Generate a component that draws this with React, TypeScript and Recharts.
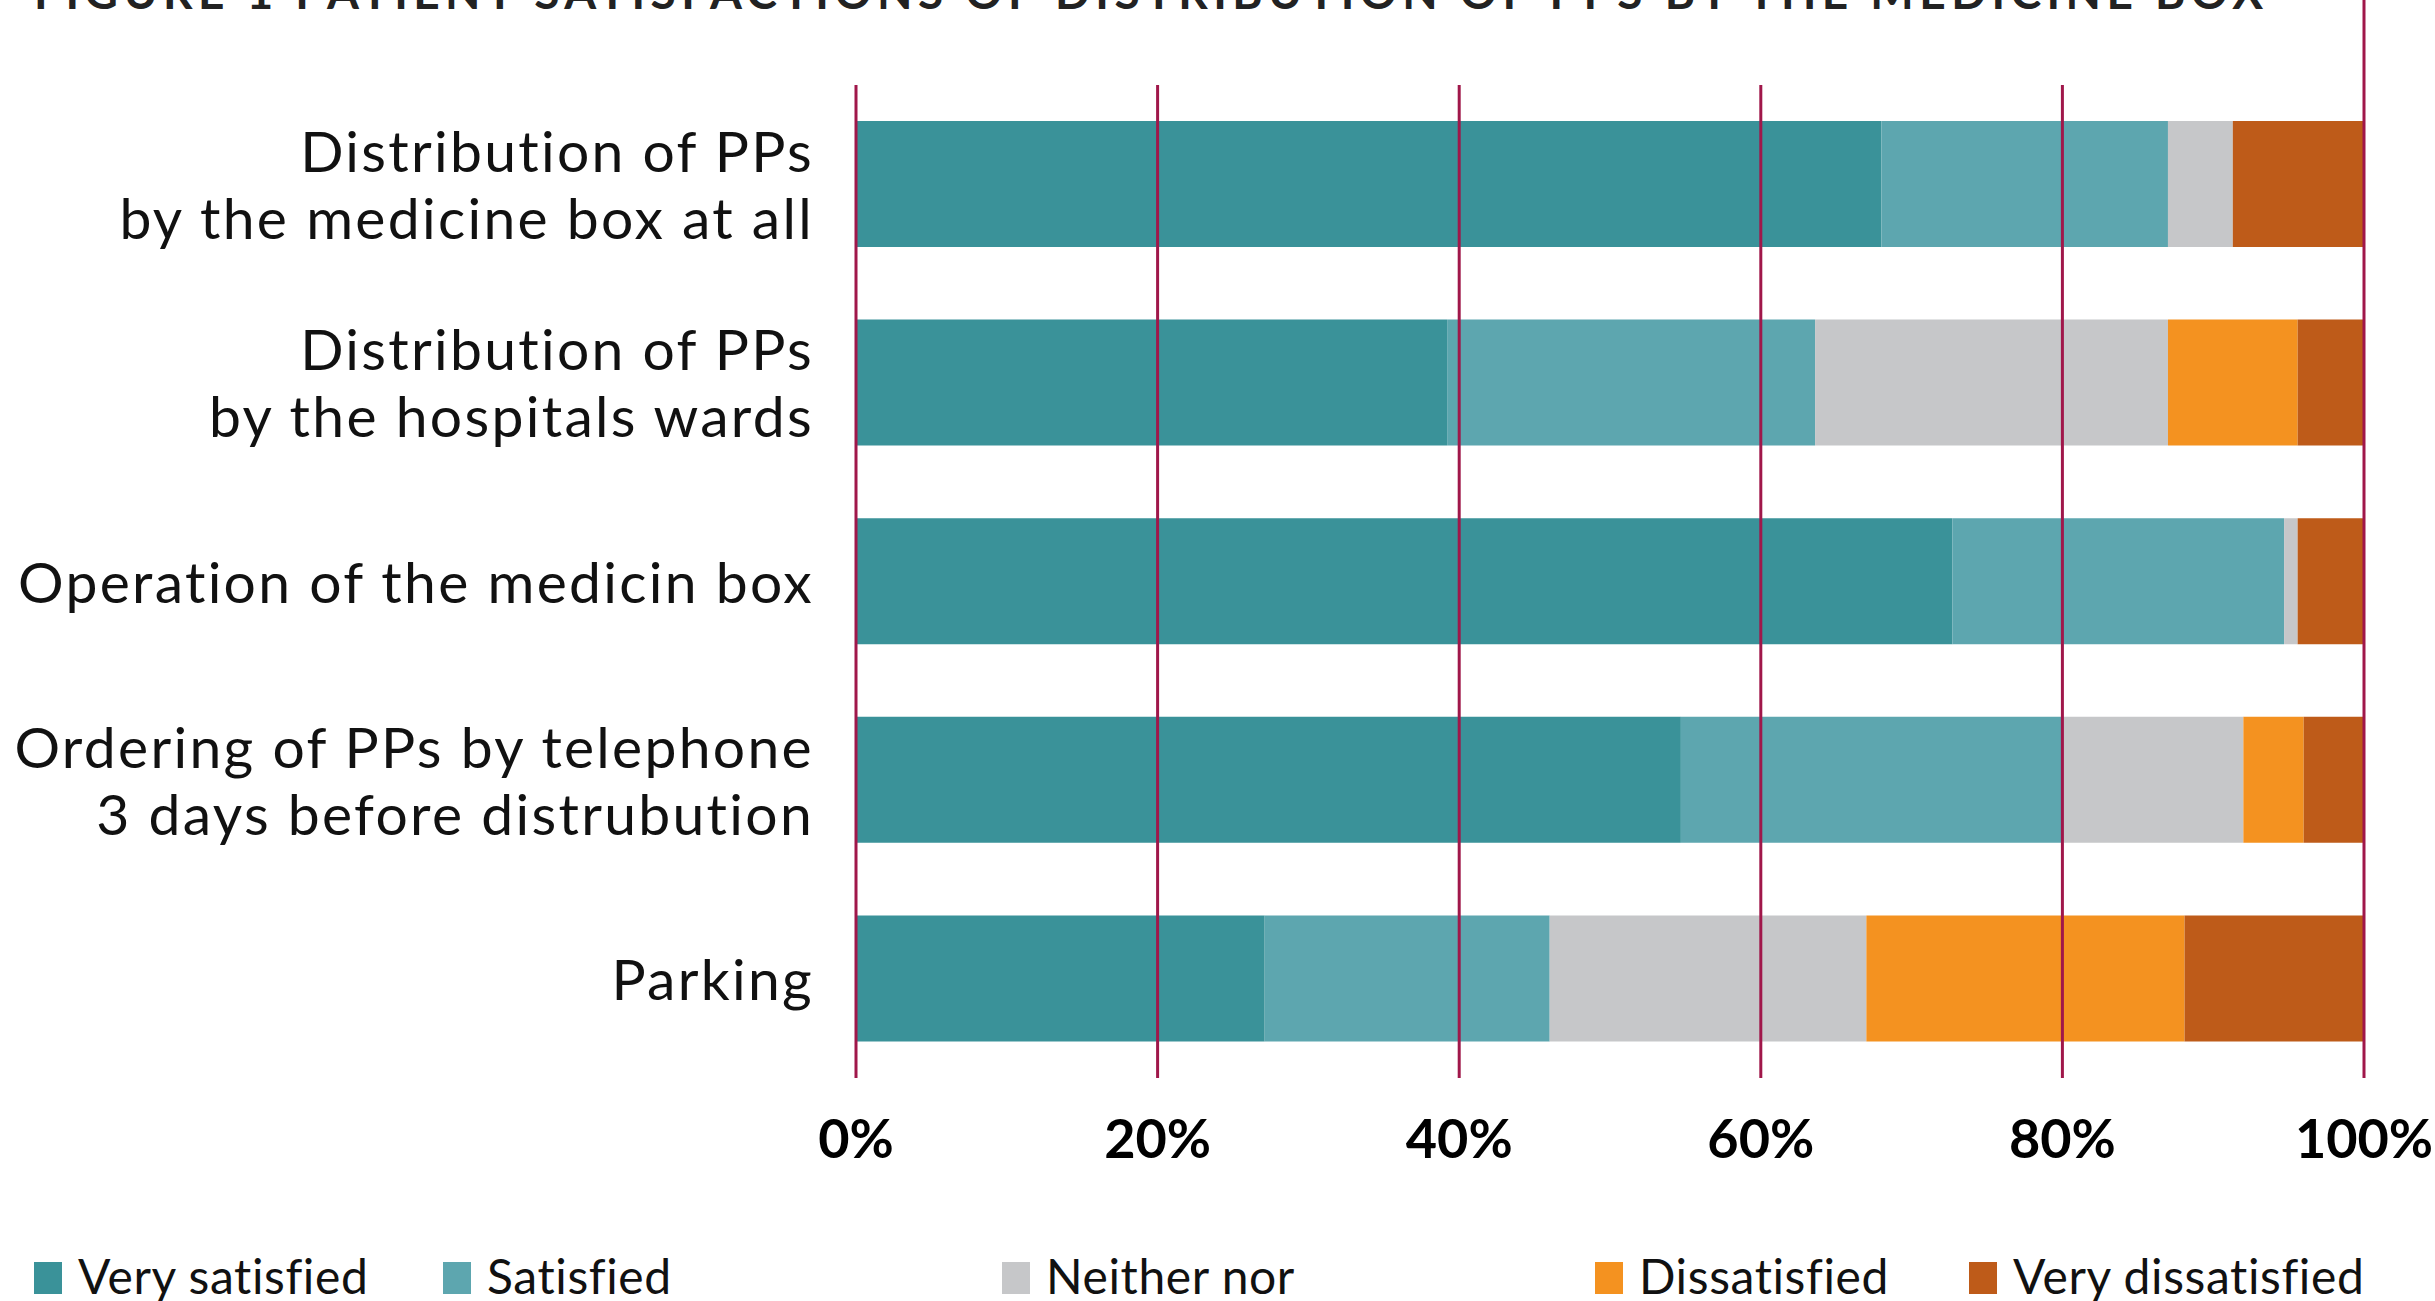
import { BarChart, Bar, XAxis, YAxis, ReferenceLine, Legend } from 'recharts'

const categories = [
  'Distribution of PPs\nby the medicine box at all',
  'Distribution of PPs\nby the hospitals wards',
  'Operation of the medicin box',
  'Ordering of PPs by telephone\n3 days before distrubution',
  'Parking'
]

const verySatisfied = [68.0, 39.2, 72.7, 54.7, 27.1]
const satisfied = [19.0, 24.4, 22.0, 25.3, 18.9]
const neitherNor = [4.3, 23.4, 0.9, 12.0, 21.0]
const dissatisfied = [0, 8.6, 0, 4.0, 21.1]
const veryDissatisfied = [8.7, 4.4, 4.4, 4.0, 11.9]

const seriesNames = ['Very satisfied', 'Satisfied', 'Neither nor', 'Dissatisfied', 'Very dissatisfied']
const xTicks = [0, 20, 40, 60, 80, 100]
const titleText = 'FIGURE 1 PATIENT SATISFACTIONS OF DISTRIBUTION OF PPS BY THE MEDICINE BOX'

const colors = ['#3a9299', '#5da6af', '#c6c7c9', '#f49220', '#be5b19']
const gridColor = '#a0174a'
const font = 'Lato, "Open Sans", sans-serif'

// legend swatch x positions (layout only)
const legendX = [34, 443, 1002, 1595, 1969]

const data = categories.map((name, i) => ({
  name,
  vs: verySatisfied[i],
  s: satisfied[i],
  n: neitherNor[i],
  d: dissatisfied[i],
  vd: veryDissatisfied[i]
}))
const keys = ['vs', 's', 'n', 'd', 'vd']

const CategoryTick = ({ x, y, payload }: any) => {
  const lines = String(payload.value).split('\n')
  const lh = 67
  const first = y - ((lines.length - 1) * lh) / 2 + 21
  return (
    <text x={x - 42} y={first} textAnchor="end" fontFamily={font} fontSize={57} letterSpacing={2.3} fill="#111">
      {lines.map((l, i) => (
        <tspan key={i} x={x - 42} y={first + i * lh}>{l}</tspan>
      ))}
    </text>
  )
}

const PercentTick = ({ x, y, payload }: any) => (
  <text x={x} y={y + 80} textAnchor="middle" fontFamily={font} fontWeight={700} fontSize={54} fill="#000">
    {payload.value}%
  </text>
)

const LegendContent = () => (
  <svg width={2435} height={60} style={{ display: 'block', overflow: 'visible' }}>
    {seriesNames.map((name, i) => (
      <g key={name}>
        <rect x={legendX[i]} y={2} width={28} height={32} fill={colors[i]} />
        <text x={legendX[i] + 44} y={34} fontFamily={font} fontSize={48} letterSpacing={0.6} fill="#111">{name}</text>
      </g>
    ))}
  </svg>
)

export default function App() {
  return (
    <div style={{ position: 'absolute', left: 0, top: 0, width: 2435, height: 1301, overflow: 'hidden', background: '#fff' }}>
      <svg width={2435} height={20} style={{ position: 'absolute', left: 0, top: 0 }}>
        <text x={34} y={9} fontFamily={font} fontWeight={700} fontSize={46} fill="#222" textLength={2229} lengthAdjust="spacing">
          {titleText}
        </text>
      </svg>
      <BarChart
        width={2435}
        height={1301}
        data={data}
        layout="vertical"
        margin={{ top: 85, right: 71, left: 0, bottom: 102 }}
      >
        <XAxis
          type="number"
          domain={[0, 100]}
          ticks={xTicks}
          axisLine={false}
          tickLine={false}
          tickSize={0}
          tickMargin={0}
          height={80}
          tick={<PercentTick />}
          interval={0}
        />
        <YAxis
          type="category"
          dataKey="name"
          width={856}
          axisLine={false}
          tickLine={false}
          tickSize={0}
          tickMargin={0}
          tick={<CategoryTick />}
          interval={0}
        />
        {keys.map((k, i) => (
          <Bar
            key={k}
            dataKey={k}
            name={seriesNames[i]}
            stackId="a"
            fill={colors[i]}
            barSize={126}
            isAnimationActive={false}
          />
        ))}
        {xTicks.map((t) => (
          <ReferenceLine
            key={t}
            x={t}
            stroke={gridColor}
            strokeWidth={3}
            shape={
              t === 100
                ? (p: any) => (
                    <line x1={p.x1} x2={p.x2} y1={0} y2={Math.max(p.y1, p.y2)} stroke={gridColor} strokeWidth={3} />
                  )
                : undefined
            }
          />
        ))}
        <Legend
          verticalAlign="bottom"
          content={<LegendContent />}
          wrapperStyle={{ left: 0, bottom: 0, width: 2435, height: 41 }}
        />
      </BarChart>
    </div>
  )
}
